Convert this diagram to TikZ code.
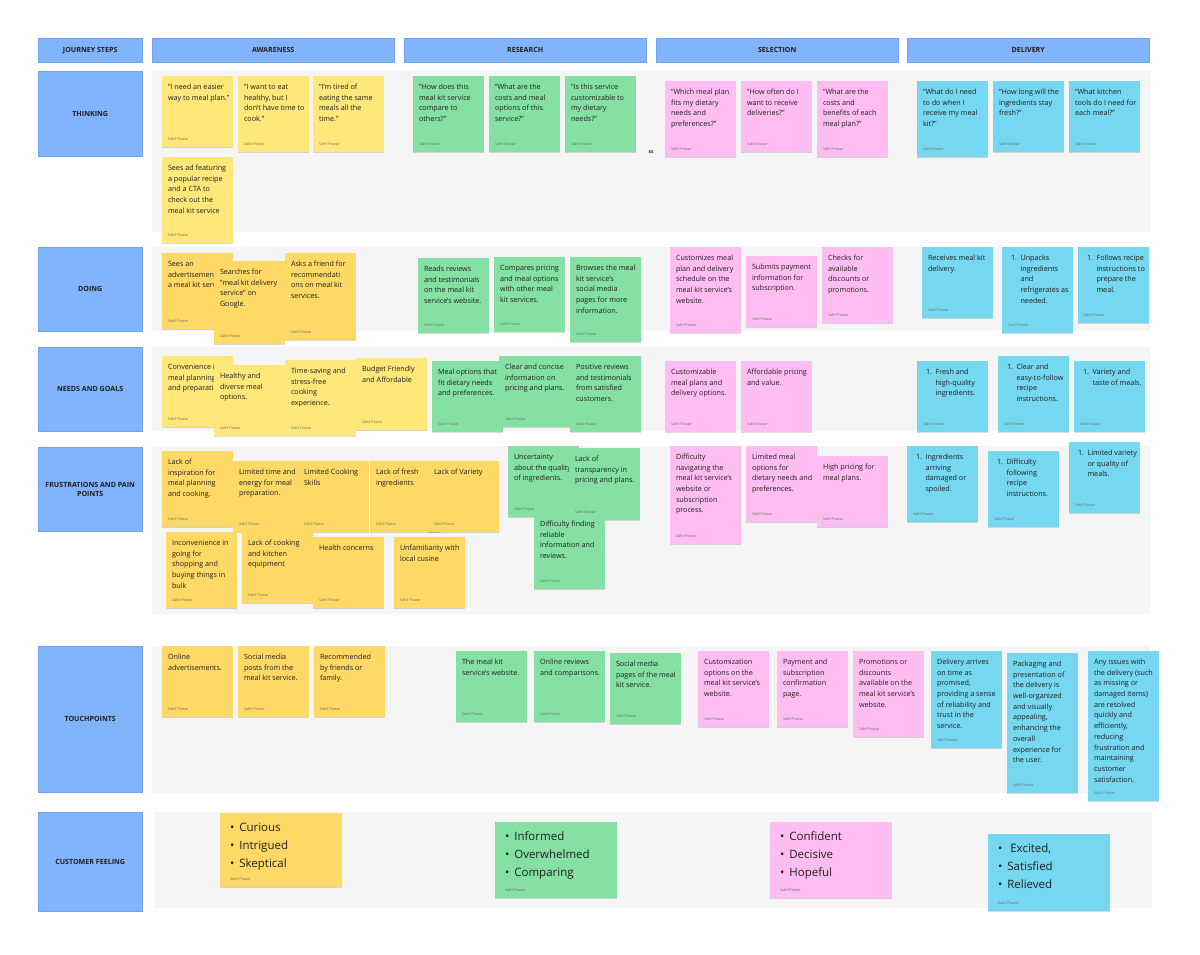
\documentclass[tikz,border=0pt]{standalone}
\usepackage{fontspec}
\setmainfont{Open Sans}
\usepackage{xcolor}
\usepackage{tikz}
\usetikzlibrary{shadows}
\definecolor{hdrblue}{HTML}{82B4FD}
\definecolor{hdredge}{HTML}{6FA2F2}
\definecolor{bandgray}{HTML}{F5F5F5}
\definecolor{noteyellowlt}{HTML}{FFE77A}
\definecolor{noteyellow}{HTML}{FFD966}
\definecolor{notegreen}{HTML}{85E0A3}
\definecolor{notepink}{HTML}{FFBDF1}
\definecolor{notecyan}{HTML}{75D7F0}
\definecolor{inkdark}{HTML}{1E1E1E}
\definecolor{inkgray}{HTML}{707070}
\newcommand{\notelines}[1]{\begin{tabular}[t]{@{}l@{}}#1\end{tabular}}
\newcommand{\noteauthor}{{\fontsize{3.8}{4}\selectfont\color{inkgray}Sahil Pawar}}
\newcommand{\notebody}[2]{\parbox[c][#1][t]{59pt}{\fontsize{7.2}{10.7}\selectfont\color{inkdark}#2\par\vfill\noteauthor}}
\newcommand{\stickynote}[5]{\node[note,fill=#4] (#1) at (#2) {\notebody{\dimexpr#3pt-12pt\relax}{\notelines{#5}}};}
\newcommand{\numnote}[5]{\node[note,fill=#4] (#1) at (#2) {\notebody{\dimexpr#3pt-12pt\relax}{\mbox{\hspace*{3pt}1.\hspace{3.5pt}\notelines{#5}}}};}
\newcommand{\feelnote}[5]{\node[feel,fill=#4] (#1) at (#2) {\parbox[c][\dimexpr#3pt-12pt\relax][t]{102pt}{\fontsize{11.5}{18}\selectfont\color{inkdark}\notelines{#5}\par\vfill\noteauthor}};}
\tikzset{
  note/.style={rectangle,anchor=north west,inner xsep=6pt,inner ysep=6pt,outer sep=0pt,
    drop shadow={shadow xshift=0pt,shadow yshift=-1.2pt,opacity=0.15,fill=black}},
  feel/.style={note,inner xsep=10pt},
  hdr/.style={rectangle,anchor=north west,fill=hdrblue,draw=hdredge,line width=0.4pt,
    minimum height=24pt,minimum width=242pt,inner sep=0pt,text=inkdark,align=center,
    font=\fontsize{7.1}{8.6}\selectfont\bfseries},
  rowlbl/.style={hdr,minimum width=104pt},
  band/.style={fill=bandgray}
}

\begin{document}
\begin{tikzpicture}[x=1pt,y=-1pt]
  \fill[white] (0,0) rectangle (1200,955);
  \useasboundingbox (0,0) rectangle (1200,955);

  \fill[band] (152,71) rectangle (1150,232);
  \fill[band] (152,247) rectangle (1150,331);
  \fill[band] (152,347) rectangle (1150,431);
  \fill[band] (152,446) rectangle (1150,614);
  \fill[band] (152,646) rectangle (1150,793);
  \fill[band] (155,812) rectangle (1152,908);

  \node[rowlbl] (steps) at (38,38) {JOURNEY STEPS};
  \node[hdr] (awareness) at (152,38) {AWARENESS};
  \node[hdr] (research) at (404,38) {RESEARCH};
  \node[hdr] (selection) at (656,38) {SELECTION};
  \node[hdr] (delivery) at (907,38) {DELIVERY};

  \node[rowlbl,minimum height=85pt] (thinking) at (38,71) {THINKING};
  \node[rowlbl,minimum height=84pt] (doing) at (38,247) {DOING};
  \node[rowlbl,minimum height=84pt] (needs) at (38,347) {NEEDS AND GOALS};
  \node[rowlbl,minimum height=84pt] (frustrations) at (38,447) {FRUSTRATIONS AND PAIN\\POINTS};
  \node[rowlbl,minimum height=146pt] (touchpoints) at (38,646) {TOUCHPOINTS};
  \node[rowlbl,minimum height=99pt] (feeling) at (38,812) {CUSTOMER FEELING};

  \stickynote{t1}{162,76}{71}{noteyellowlt}{"I need an easier\\way to meal plan."}
  \stickynote{t2}{238,76}{76}{noteyellowlt}{"I want to eat\\healthy, but I\\don't have time to\\cook."}
  \stickynote{t3}{313,76}{76}{noteyellowlt}{"I'm tired of\\eating the same\\meals all the\\time."}
  \stickynote{t4}{162,157}{86}{noteyellowlt}{Sees ad featuring\\a popular recipe\\and a CTA to\\check out the\\meal kit service}
  \stickynote{r1}{413,76}{76}{notegreen}{"How does this\\meal kit service\\compare to\\others?"}
  \stickynote{r2}{489,76}{76}{notegreen}{"What are the\\costs and meal\\options of this\\service?"}
  \stickynote{r3}{565,76}{76}{notegreen}{"Is this service\\customizable to\\my dietary\\needs?"}
  \node[font=\fontsize{5}{6}\selectfont\bfseries,text=inkdark] (ssmark) at (651,152) {ss};
  \stickynote{s1}{665,81}{76}{notepink}{"Which meal plan\\fits my dietary\\needs and\\preferences?"}
  \stickynote{s2}{741,81}{71}{notepink}{"How often do I\\want to receive\\deliveries?"}
  \stickynote{s3}{817,81}{76}{notepink}{"What are the\\costs and\\benefits of each\\meal plan?"}
  \stickynote{d1}{917,81}{76}{notecyan}{"What do I need\\to do when I\\receive my meal\\kit?"}
  \stickynote{d2}{993,81}{71}{notecyan}{"How long will the\\ingredients stay\\fresh?"}
  \stickynote{d3}{1069,81}{71}{notecyan}{"What kitchen\\tools do I need for\\each meal?"}

  \stickynote{do1}{162,253}{76}{noteyellow}{Sees an\\advertisement on\\a meal kit service}
  \stickynote{do2}{214,261}{83}{noteyellow}{Searches for\\"meal kit delivery\\service" on\\Google.}
  \stickynote{do3}{285,253}{87}{noteyellow}{Asks a friend for\\recommendati\\ons on meal kit\\services.}
  \stickynote{do4}{418,258}{75}{notegreen}{Reads reviews\\and testimonials\\on the meal kit\\service's website.}
  \stickynote{do5}{494,257}{75}{notegreen}{Compares pricing\\and meal options\\with other meal\\kit services.}
  \stickynote{do6}{570,257}{85}{notegreen}{Browses the meal\\kit service's\\social media\\pages for more\\information.}
  \stickynote{do7}{670,247}{86}{notepink}{Customizes meal\\plan and delivery\\schedule on the\\meal kit service's\\website.}
  \stickynote{do8}{746,256}{71}{notepink}{Submits payment\\information for\\subscription.}
  \stickynote{do9}{822,247}{76}{notepink}{Checks for\\available\\discounts or\\promotions.}
  \stickynote{do10}{922,247}{71}{notecyan}{Receives meal kit\\delivery.}
  \numnote{do11}{1002,247}{86}{notecyan}{Unpacks\\ingredients\\and\\refrigerates as\\needed.}
  \numnote{do12}{1078,247}{76}{notecyan}{Follows recipe\\instructions to\\prepare the\\meal.}

  \stickynote{n1}{162,356}{71}{noteyellowlt}{Convenience in\\meal planning\\and preparation.}
  \stickynote{n2}{214,365}{71}{noteyellowlt}{Healthy and\\diverse meal\\options.}
  \stickynote{n3}{285,360}{76}{noteyellowlt}{Time-saving and\\stress-free\\cooking\\experience.}
  \stickynote{n4}{356,358}{72}{noteyellowlt}{Budget Friendly\\and Affordable}
  \stickynote{n6}{499,356}{71}{notegreen}{Clear and concise\\information on\\pricing and plans.}
  \stickynote{n5}{432,361}{71}{notegreen}{Meal options that\\fit dietary needs\\and preferences.}
  \stickynote{n7}{570,356}{76}{notegreen}{Positive reviews\\and testimonials\\from satisfied\\customers.}
  \stickynote{n8}{665,361}{71}{notepink}{Customizable\\meal plans and\\delivery options.}
  \stickynote{n9}{741,361}{71}{notepink}{Affordable pricing\\and value.}
  \numnote{n10}{917,361}{71}{notecyan}{Fresh and\\high-quality\\ingredients.}
  \numnote{n11}{998,356}{76}{notecyan}{Clear and\\easy-to-follow\\recipe\\instructions.}
  \numnote{n12}{1074,361}{71}{notecyan}{Variety and\\taste of meals.}

  \stickynote{f1}{162,451}{76}{noteyellow}{Lack of\\inspiration for\\meal planning\\and cooking.}
  \stickynote{f2}{233,461}{71}{noteyellow}{Limited time and\\energy for meal\\preparation.}
  \stickynote{f3}{298,461}{71}{noteyellow}{Limited Cooking\\Skills}
  \stickynote{f4}{370,461}{71}{noteyellow}{Lack of fresh\\ingredients}
  \stickynote{f5}{428,461}{71}{noteyellow}{Lack of Variety}
  \stickynote{f6}{166,532}{76}{noteyellow}{Inconvenience in\\going for\\shopping and\\buying things in\\bulk}
  \stickynote{f7}{242,532}{71}{noteyellow}{Lack of cooking\\and kitchen\\equipment}
  \stickynote{f8}{313,537}{71}{noteyellow}{Health concerns}
  \stickynote{f9}{394,537}{71}{noteyellow}{Unfamiliarity with\\local cusine}
  \stickynote{f10}{508,446}{71}{notegreen}{Uncertainty\\about the quality\\of ingredients.}
  \stickynote{f11}{569,448}{72}{notegreen}{Lack of\\transparency in\\pricing and plans.}
  \stickynote{f12}{534,513}{76}{notegreen}{Difficulty finding\\reliable\\information and\\reviews.}
  \stickynote{f13}{670,446}{98}{notepink}{Difficulty\\navigating the\\meal kit service's\\website or\\subscription\\process.}
  \stickynote{f14}{746,446}{76}{notepink}{Limited meal\\options for\\dietary needs and\\preferences.}
  \stickynote{f15}{817,456}{71}{notepink}{High pricing for\\meal plans.}
  \numnote{f16}{907,446}{76}{notecyan}{Ingredients\\arriving\\damaged or\\spoiled.}
  \numnote{f17}{988,451}{76}{notecyan}{Difficulty\\following\\recipe\\instructions.}
  \numnote{f18}{1069,442}{71}{notecyan}{Limited variety\\or quality of\\meals.}

  \stickynote{tp1}{162,646}{71}{noteyellow}{Online\\advertisements.}
  \stickynote{tp2}{238,646}{71}{noteyellow}{Social media\\posts from the\\meal kit service.}
  \stickynote{tp3}{314,646}{71}{noteyellow}{Recommended\\by friends or\\family.}
  \stickynote{tp4}{456,651}{71}{notegreen}{The meal kit\\service's website.}
  \stickynote{tp5}{534,651}{71}{notegreen}{Online reviews\\and comparisons.}
  \stickynote{tp6}{610,653}{71}{notegreen}{Social media\\pages of the meal\\kit service.}
  \stickynote{tp7}{698,651}{76}{notepink}{Customization\\options on the\\meal kit service's\\website.}
  \stickynote{tp8}{777,651}{76}{notepink}{Payment and\\subscription\\confirmation\\page.}
  \stickynote{tp9}{853,651}{86}{notepink}{Promotions or\\discounts\\available on the\\meal kit service's\\website.}
  \stickynote{tp10}{931,651}{97}{notecyan}{Delivery arrives\\on time as\\promised,\\providing a sense\\of reliability and\\trust in the\\service.}
  \stickynote{tp11}{1007,653}{140}{notecyan}{Packaging and\\presentation of\\the delivery is\\well-organized\\and visually\\appealing,\\enhancing the\\overall\\experience for\\the user.}
  \stickynote{tp12}{1088,651}{150}{notecyan}{Any issues with\\the delivery (such\\as missing or\\damaged items)\\are resolved\\quickly and\\efficiently,\\reducing\\frustration and\\maintaining\\customer\\satisfaction.}

  \feelnote{cf1}{220,813}{74}{noteyellow}{\textbullet\hspace{5pt}Curious\\\textbullet\hspace{5pt}Intrigued\\\textbullet\hspace{5pt}Skeptical}
  \feelnote{cf2}{495,822}{76}{notegreen}{\textbullet\hspace{5pt}Informed\\\textbullet\hspace{5pt}Overwhelmed\\\textbullet\hspace{5pt}Comparing}
  \feelnote{cf3}{770,822}{76}{notepink}{\textbullet\hspace{5pt}Confident\\\textbullet\hspace{5pt}Decisive\\\textbullet\hspace{5pt}Hopeful}
  \feelnote{cf4}{988,834}{77}{notecyan}{\textbullet\hspace{8pt}Excited,\\\textbullet\hspace{5pt}Satisfied\\\textbullet\hspace{5pt}Relieved}
\end{tikzpicture}
\end{document}
